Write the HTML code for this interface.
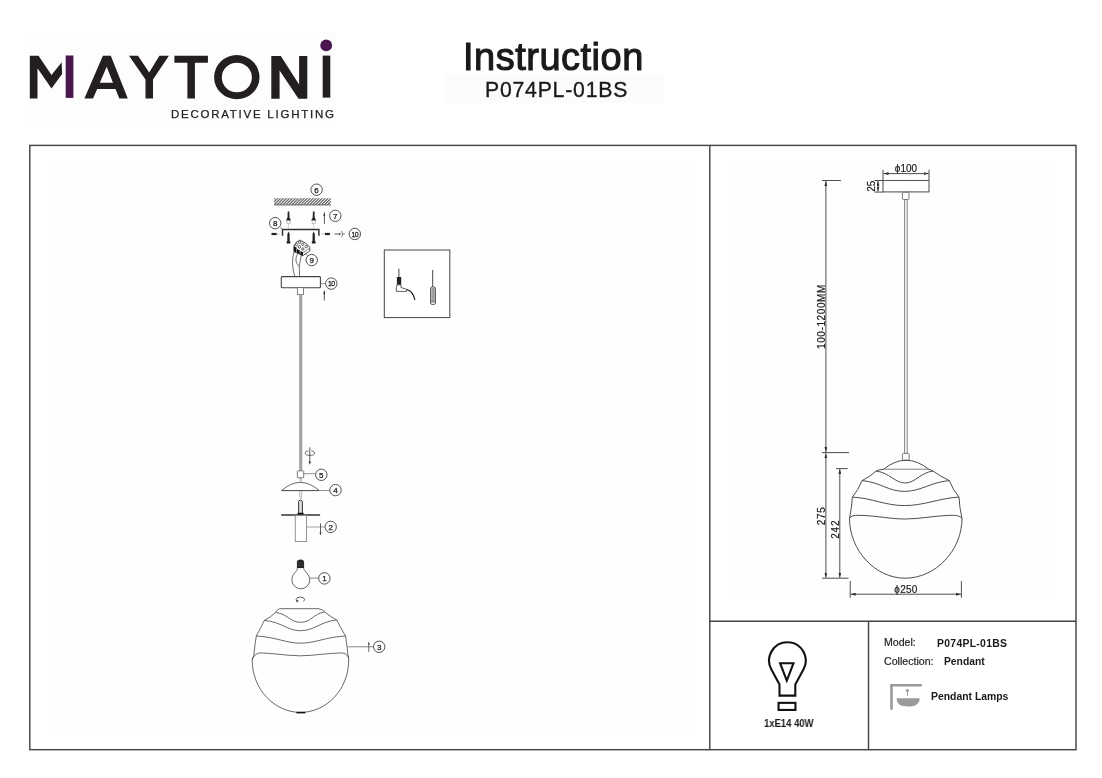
<!DOCTYPE html>
<html>
<head>
<meta charset="utf-8">
<style>
html,body{margin:0;padding:0;background:#fff;}
body{width:1102px;height:778px;position:relative;overflow:hidden;font-family:"Liberation Sans",sans-serif;color:#1a1a1a;}
.t{position:absolute;white-space:nowrap;line-height:1;will-change:transform;}
svg{will-change:transform;}
svg{position:absolute;left:0;top:0;}
</style>
</head>
<body>
<svg width="1102" height="778" viewBox="0 0 1102 778">
  <!-- faint background panels -->
  <rect x="30" y="32" width="306" height="96" fill="#fdfdfd"/>
  <rect x="48" y="164" width="643" height="568" fill="#fefefe"/>
  <rect x="445" y="74" width="219" height="29" fill="#fcfcfc"/>
  <rect x="728" y="164" width="322" height="436" fill="#fefefe"/>
  <!-- LOGO -->
  <g fill="#231f20">
    <polygon points="29.8,98.4 29.8,55.8 38.5,55.8 51.5,74.9 61.7,62.2 62.1,74.1 51.5,88.4 37.5,68.2 37.5,98.4"/>
    <path fill-rule="evenodd" d="M84.4,98.4 L102.9,55.8 L110.8,55.8 L127.8,98.4 L119.3,98.4 L115.5,89 L97.2,89 L93,98.4 Z M99.8,82.7 L106.7,66.8 L113,82.7 Z"/>
    <polygon points="129,55.8 138,55.8 149.2,72.5 159.4,55.8 168.9,55.8 153,79.5 153,98.4 145.5,98.4 145.5,79.5"/>
    <polygon points="174.4,55.8 207.9,55.8 207.9,62.8 194.9,62.8 194.9,98.4 187.4,98.4 187.4,62.8 174.4,62.8"/>
    <path fill-rule="evenodd" d="M214.1,77.2 A22.7,22.1 0 1 0 259.5,77.2 A22.7,22.1 0 1 0 214.1,77.2 Z M221.8,77.5 A15.05,14.75 0 1 0 251.9,77.5 A15.05,14.75 0 1 0 221.8,77.5 Z"/>
    <polygon points="271.3,98.7 271.3,56 280.8,56 299.1,84.5 299.1,56 307.3,56 307.3,98.7 298.5,98.7 279.6,70.4 279.6,98.7"/>
    <rect x="322.7" y="55.6" width="7.6" height="42"/>
  </g>
  <g fill="#4a1650">
    <rect x="65.7" y="55.5" width="7.7" height="42.4"/>
    <circle cx="326.2" cy="45.4" r="5.9"/>
  </g>



  <!-- LEFT ASSEMBLY DIAGRAM -->
  <defs>
    <pattern id="hatch" patternUnits="userSpaceOnUse" width="2.1" height="2.1" patternTransform="rotate(45)">
      <rect x="0" y="0" width="1" height="2.1" fill="#444"/>
    </pattern>
    <marker id="ah" viewBox="0 0 10 6" refX="10" refY="3" markerWidth="4.6" markerHeight="2.2" orient="auto" markerUnits="userSpaceOnUse">
      <path d="M0,0 L10,3 L0,6 Z" fill="#333"/>
    </marker>
  </defs>
  <!-- ceiling hatch -->
  <rect x="274.1" y="198.2" width="56.7" height="6.4" fill="url(#hatch)"/>
  <line x1="274.1" y1="204.9" x2="330.8" y2="204.9" stroke="#555" stroke-width="1"/>
  <!-- callout circles -->
  <g stroke="#333" stroke-width="0.85" fill="#fff">
    <circle cx="316.6" cy="189.7" r="5.7"/>
    <circle cx="335.3" cy="215.8" r="5.7"/>
    <circle cx="275.2" cy="223.2" r="5.7"/>
    <circle cx="354.8" cy="234" r="5.7"/>
    <circle cx="311.7" cy="260.1" r="5.7"/>
    <circle cx="331.3" cy="283.6" r="5.7"/>
    <circle cx="321.3" cy="474.8" r="5.7"/>
    <circle cx="335.5" cy="490.1" r="5.7"/>
    <circle cx="330.7" cy="526.9" r="5.7"/>
    <circle cx="324.4" cy="578.4" r="5.7"/>
    <circle cx="379.2" cy="646.8" r="5.7"/>
  </g>
  <g font-family="Liberation Sans, sans-serif" font-size="8" fill="#1a1a1a" stroke="#1a1a1a" stroke-width="0.25" text-anchor="middle">
    <text x="316.6" y="192.6">6</text>
    <text x="335.3" y="218.7">7</text>
    <text x="275.2" y="226.1">8</text>
    <text x="354.8" y="236.9" font-size="7.6" letter-spacing="-0.7" transform="translate(354.8,0) scale(0.92,1) translate(-354.8,0)">10</text>
    <text x="311.7" y="263">9</text>
    <text x="331.3" y="286.5" font-size="7.6" letter-spacing="-0.7" transform="translate(331.3,0) scale(0.92,1) translate(-331.3,0)">10</text>
    <text x="321.3" y="477.7">5</text>
    <text x="335.5" y="493">4</text>
    <text x="330.7" y="529.8">2</text>
    <text x="324.4" y="581.3">1</text>
    <text x="379.2" y="649.7">3</text>
  </g>
  <!-- wall plugs (top) -->
  <g fill="#222">
    <path d="M287.7,211.4 L289.3,211.4 L289.5,217.5 L291,220.6 L286,220.6 L287.5,217.5 Z"/>
    <path d="M312.9,211.4 L314.5,211.4 L314.7,217.5 L316.2,220.6 L311.2,220.6 L312.7,217.5 Z"/>
  </g>
  <g fill="none" stroke="#999" stroke-width="0.6">
    <rect x="286.9" y="220.8" width="3.2" height="2.8"/>
    <rect x="312.1" y="220.8" width="3.2" height="2.8"/>
    <line x1="288.5" y1="224" x2="288.5" y2="229" stroke-dasharray="1.5,1"/>
    <line x1="313.7" y1="224" x2="313.7" y2="229" stroke-dasharray="1.5,1"/>
  </g>
  <!-- bracket -->
  <path d="M282.5,235.7 L282.5,229.6 L318.9,229.6 L318.9,235.7" fill="none" stroke="#333" stroke-width="1.5"/>
  <line x1="280.2" y1="227.3" x2="282.5" y2="229.4" stroke="#555" stroke-width="0.7"/>
  <!-- screws (lower) -->
  <g fill="#222">
    <path d="M288.5,231.4 L289.6,234 L289.7,241 L290.5,242 L290.3,243.5 L286.7,243.5 L286.5,242 L287.3,241 L287.4,234 Z"/>
    <path d="M313.7,231.4 L314.8,234 L314.9,241 L315.7,242 L315.5,243.5 L311.9,243.5 L311.7,242 L312.5,241 L312.6,234 Z"/>
    <rect x="271.5" y="232.9" width="5.2" height="2.2"/>
    <rect x="325" y="232.9" width="4.9" height="2.2"/>
  </g>
  <g fill="none" stroke="#aaa" stroke-width="0.7">
    <line x1="276.8" y1="234" x2="279.6" y2="234"/>
    <line x1="321.8" y1="234" x2="325" y2="234"/>
  </g>
  <!-- arrow + nut right -->
  <line x1="334.5" y1="234" x2="339" y2="234" stroke="#333" stroke-width="0.8"/>
  <path d="M339,232.8 L341,234 L339,235.2 Z" fill="#333"/>
  <path d="M341.5,230.8 Q343.8,234 341.5,237.2 M341.7,234 L344.9,234" fill="none" stroke="#555" stroke-width="0.7"/>
  <!-- arrow 7 -->
  <line x1="324.4" y1="223.8" x2="324.4" y2="212.4" stroke="#333" stroke-width="0.8" marker-end="url(#ah)"/>
  <!-- terminal block -->
  <path d="M293.9,246 L296,242.5 L299.6,240.2 L303,241.6 L306.5,243.8 L309.8,247.6 L309.8,251 L302.8,255.8 L293.9,251.5 Z" fill="#fff" stroke="#111" stroke-width="0.7"/>
  <g fill="#111">
    <path d="M293.9,246.3 L296.5,247.6 L296.5,252.7 L293.9,251.5 Z"/>
    <path d="M297,249 L299.7,250.3 L299.7,254.3 L297,253 Z"/>
    <path d="M300.3,251 L303,252.3 L303,255.8 L300.3,254.6 Z"/>
  </g>
  <g fill="#fff" stroke="#111" stroke-width="0.65">
    <circle cx="296.4" cy="244.6" r="1.25"/>
    <circle cx="299.6" cy="242.3" r="1.25"/>
    <circle cx="299.5" cy="246.9" r="1.25"/>
    <circle cx="302.8" cy="244.3" r="1.2"/>
    <circle cx="302.8" cy="249" r="1.2"/>
    <circle cx="306.2" cy="246.6" r="1.2"/>
  </g>
  <path d="M303,252.6 L309.6,248.2" stroke="#111" stroke-width="0.5"/>
  <line x1="306" y1="253.7" x2="307.6" y2="255.6" stroke="#555" stroke-width="0.6"/>
  <!-- wires -->
  <g fill="none" stroke="#333" stroke-width="0.7">
    <path d="M294.2,251.5 Q290.5,262 294.8,276.6"/>
    <path d="M297.4,254.2 Q293.5,261 299.3,266.6 L299.6,276.6"/>
    <path d="M301.2,255.3 Q300,262 299.3,266.6"/>
  </g>
  <!-- canopy -->
  <rect x="281.3" y="276.6" width="39.1" height="11.1" rx="0.8" fill="#fff" stroke="#444" stroke-width="1.1"/>
  <line x1="320.4" y1="283.6" x2="325.6" y2="283.6" stroke="#666" stroke-width="0.7"/>
  <line x1="324.3" y1="300.7" x2="324.3" y2="290.6" stroke="#333" stroke-width="0.8" marker-end="url(#ah)"/>
  <rect x="297.4" y="287.7" width="6.2" height="6.7" fill="#fff" stroke="#666" stroke-width="0.8"/>
  <!-- cord -->
  <rect x="299.3" y="294.4" width="2.8" height="176.2" fill="#a8a8a8"/>
  <line x1="299.5" y1="294.4" x2="299.5" y2="470.6" stroke="#888" stroke-width="0.4"/>
  <line x1="301.9" y1="294.4" x2="301.9" y2="470.6" stroke="#888" stroke-width="0.4"/>
  <!-- rotation symbol -->
  <line x1="309.8" y1="447.3" x2="309.8" y2="462.5" stroke="#333" stroke-width="0.8"/>
  <path d="M308.6,461.5 L309.8,464.7 L311,461.5 Z" fill="#333"/>
  <path d="M308.4,450.8 Q305,451.5 305.1,453.1 Q305.3,455.4 309.8,455.4 Q314.7,455.3 314.7,453.1 Q314.6,451.2 311.3,450.8" fill="none" stroke="#333" stroke-width="0.7"/>
  <!-- box 5 -->
  <rect x="297.4" y="470.8" width="6.3" height="7" rx="0.8" fill="#fff" stroke="#555" stroke-width="0.8"/>
  <line x1="303.7" y1="473.7" x2="315.6" y2="473.7" stroke="#666" stroke-width="0.7"/>
  <path d="M300,477.8 L300.4,482.4 M301.2,477.8 L301,482.4" stroke="#777" stroke-width="0.5" fill="none"/>
  <!-- dome 4 -->
  <path d="M281.6,490.5 Q300.4,474.3 319.3,490.5 Z" fill="#fff" stroke="#444" stroke-width="0.8"/>
  <line x1="281.6" y1="490.6" x2="319.3" y2="490.6" stroke="#555" stroke-width="1"/>
  <line x1="319.3" y1="490.5" x2="329.8" y2="490.5" stroke="#666" stroke-width="0.7"/>
  <!-- wire below dome -->
  <path d="M299.8,491 Q299.2,495 300.3,498.8 M301.6,491 Q301.8,495 301.2,498.8" stroke="#777" stroke-width="0.5" fill="none"/>
  <!-- threaded tube -->
  <path d="M298.6,514 L298.6,501.6 Q298.6,500.2 300.5,500.2 Q302.4,500.2 302.4,501.6 L302.4,514" fill="#ddd" stroke="#222" stroke-width="0.9"/>
  <path d="M297.3,514.8 L297.8,512.8 L303.4,512.8 L303.9,514.8 Z" fill="#111"/>
  <!-- plate -->
  <line x1="281.2" y1="515" x2="320.1" y2="515" stroke="#333" stroke-width="1.6"/>
  <!-- socket body -->
  <rect x="295.3" y="515.6" width="11.3" height="26" fill="#fff" stroke="#888" stroke-width="0.9"/>
  <line x1="306.6" y1="527" x2="325" y2="527" stroke="#888" stroke-width="0.8"/>
  <line x1="320.5" y1="523.3" x2="320.5" y2="533" stroke="#333" stroke-width="0.8"/>
  <path d="M319.4,532.5 L320.5,535.3 L321.6,532.5 Z" fill="#333"/>
  <!-- bulb 1 -->
  <path d="M296.9,568.3 L296.9,562.2 Q297,559.5 300.5,559.5 Q304,559.5 304.1,562.2 L304.1,568.3 Z" fill="#262626"/>
  <g stroke="#555" stroke-width="0.45"><line x1="297" y1="563.2" x2="304" y2="563.2"/><line x1="297" y1="565.6" x2="304" y2="565.6"/></g>
  <path d="M297.4,568.3 C297.4,571.5 291.9,573.8 291.9,579.9 A8.9,8.9 0 0 0 309.7,579.9 C309.7,573.8 304,571.5 303.7,568.3" fill="#fff" stroke="#444" stroke-width="0.8"/>
  <line x1="309.7" y1="578.1" x2="318.7" y2="578.1" stroke="#555" stroke-width="0.7"/>
  <!-- rotation arrow above globe -->
  <path d="M303.6,601.4 Q305.5,599.5 303.5,597.8 Q300.5,596.2 297.3,597.8 Q295.3,599.4 296.8,601.2" fill="none" stroke="#333" stroke-width="0.8"/>
  <path d="M295.6,600.6 L297.4,602.6 L298.4,600.2 Z" fill="#333"/>
  <!-- globe (left) -->
  <g stroke="#444" stroke-width="0.8" fill="none" stroke-linejoin="round">
    <path d="M279.6,608.7 Q276.6,610 275.5,612.4 Q270.6,617.5 264.3,620.4 Q260.5,628.5 256.3,636 Q254.6,646 253.8,656.1 Q252.2,658 252.2,660 C252.2,690 275,712.4 300.5,712.4 C326,712.4 348.7,690 348.7,660 Q348.7,657 347.9,654.5 Q347,645 345.5,636 Q340.9,628 336.6,619.9 Q330.2,616.5 324.6,611.9 Q323,609.8 319,608.7 Z"/>
    <path d="M275.5,612.4 C288,614 290,622.3 300.5,622.3 C311,622.3 313,614 324.6,611.9"/>
    <path d="M264.3,620.4 C282,622 287,630.7 300.5,630.7 C314,630.7 320,622 336.6,619.9"/>
    <path d="M256.3,636 C276,637 286,643.2 300.5,643.2 C315,643.2 326,637 345.5,636"/>
    <path d="M252.2,659.5 C254,655 257,653 261,652.9 C276,653.5 288,655.8 300.5,655.8 C313,655.8 326,653.2 341.5,652.9 C345,653 347.5,654.5 348.7,658.5"/>
  </g>
  <line x1="296.4" y1="712.6" x2="305.3" y2="712.6" stroke="#111" stroke-width="1.6"/>
  <line x1="347.8" y1="646.8" x2="373.3" y2="646.8" stroke="#555" stroke-width="0.7"/>
  <line x1="368.8" y1="644" x2="368.8" y2="652.1" stroke="#333" stroke-width="0.7"/>
  <path d="M367.9,644.4 L368.8,641.6 L369.7,644.4 Z" fill="#333"/>
  <!-- detail box -->
  <rect x="384.3" y="250" width="65.5" height="67.6" fill="#fff" stroke="#444" stroke-width="1"/>
  <g>
    <line x1="398.9" y1="268.6" x2="398.9" y2="277.2" stroke="#333" stroke-width="0.9"/>
    <rect x="396.9" y="277" width="4.3" height="7.8" fill="#222"/>
    <path d="M397,284.8 L401,284.8 L401,287.5 L403,288.2 Q406,288.6 406.8,290 L406.5,291.4 L396.3,291.4 L396.3,287.5 Z" fill="#fff" stroke="#333" stroke-width="0.8"/>
    <path d="M406.3,289.2 Q413.5,291.5 414.9,300" fill="none" stroke="#222" stroke-width="1.2"/>
    <line x1="432.7" y1="270" x2="432.7" y2="287" stroke="#333" stroke-width="0.9"/>
    <rect x="430.5" y="287" width="5" height="17.4" rx="1.5" fill="#fff" stroke="#333" stroke-width="0.8"/>
    <g stroke="#333" stroke-width="0.45"><line x1="431.7" y1="288" x2="431.7" y2="302"/><line x1="432.6" y1="288" x2="432.6" y2="302"/><line x1="433.5" y1="288" x2="433.5" y2="302"/><line x1="434.4" y1="288" x2="434.4" y2="302"/></g>
    <line x1="430.5" y1="302" x2="435.5" y2="302" stroke="#333" stroke-width="0.6"/>
  </g>

  <!-- RIGHT DIMENSION DRAWING -->
  <defs>
    <marker id="ar" viewBox="0 0 10 6" refX="10" refY="3" markerWidth="5" markerHeight="3" orient="auto-start-reverse" markerUnits="userSpaceOnUse">
      <path d="M0,0 L10,3 L0,6 Z" fill="#333"/>
    </marker>
  </defs>
  <g stroke="#3a3a3a" stroke-width="0.9" fill="none">
    <!-- canopy -->
    <rect x="883" y="180.5" width="46" height="11.4" fill="#fff" stroke="#5a5a5a" stroke-width="1.1"/>
    <rect x="902.4" y="192.2" width="6.6" height="7.3" rx="0.9" stroke="#777" stroke-width="1"/>
    <line x1="904.6" y1="199.5" x2="904.6" y2="453.4" stroke="#8a8a8a" stroke-width="1.1"/>
    <line x1="907.2" y1="199.5" x2="907.2" y2="453.4" stroke="#8a8a8a" stroke-width="1.1"/>
    <rect x="902.4" y="453.4" width="6.8" height="6.9" rx="0.9" stroke="#777" stroke-width="1"/>
    <!-- phi100 dim -->
    <line x1="883" y1="169.8" x2="883" y2="180"/>
    <line x1="929" y1="169.8" x2="929" y2="180"/>
    <line x1="883.5" y1="173.6" x2="928.5" y2="173.6" marker-start="url(#ar)" marker-end="url(#ar)"/>
    <!-- 25 dim -->
    <line x1="874.5" y1="180.5" x2="883" y2="180.5"/>
    <line x1="874.5" y1="192.1" x2="883" y2="192.1"/>
    <line x1="878" y1="181" x2="878" y2="191.6" marker-start="url(#ar)" marker-end="url(#ar)"/>
    <!-- 100-1200 dim -->
    <line x1="822" y1="180.5" x2="841" y2="180.5"/>
    <line x1="822" y1="452.6" x2="849" y2="452.6"/>
    <line x1="825.9" y1="181" x2="825.9" y2="452" marker-start="url(#ar)" marker-end="url(#ar)"/>
    <!-- 275 dim -->
    <line x1="825.9" y1="453.2" x2="825.9" y2="577.6" marker-start="url(#ar)" marker-end="url(#ar)"/>
    <line x1="822" y1="578.2" x2="848.5" y2="578.2"/>
    <!-- 242 dim -->
    <line x1="836" y1="468.6" x2="847.6" y2="468.6"/>
    <line x1="839.8" y1="469.1" x2="839.8" y2="577.6" marker-start="url(#ar)" marker-end="url(#ar)"/>
    <!-- phi250 dim -->
    <line x1="850.2" y1="581" x2="850.2" y2="597.8"/>
    <line x1="961.4" y1="581" x2="961.4" y2="597.8"/>
    <line x1="850.7" y1="594.2" x2="960.9" y2="594.2" marker-start="url(#ar)" marker-end="url(#ar)"/>
  </g>
  <g stroke="#3a3a3a" stroke-width="0.9" fill="none" stroke-linejoin="round">
    <path d="M883.6,469.3 Q905.7,451.1 928.9,469.3"/>
    <line x1="883.6" y1="469.2" x2="928.9" y2="469.2" stroke="#777"/>
    <path d="M883.6,469.3 Q878,469.6 876.2,471 Q870.5,476.5 862,480.6 Q858.5,490 852.4,497.1 Q851.8,507 849.5,518.5 C849.5,550 875,578.2 905,578.2 C936,578.2 962,550 962,518.5 Q959.4,507 959,497.1 Q952.8,490 949.4,480.6 Q940.7,476.5 932.9,471 Q930.5,469.6 928.9,469.3"/>
    <path d="M876.2,471 C890,473 895,483 905.1,483 C915,483 920,473 932.9,471"/>
    <path d="M862,480.6 C880,482 888,491.4 904.5,491.4 C921,491.4 931,482 949.4,480.6"/>
    <path d="M852.4,497.1 C872,498 885,505.6 904.5,505.6 C924,505.6 940,498 959,497.1"/>
    <path d="M849.5,518.5 C851,515.5 854,515.3 859,515.3 C878,515.8 890,519 905,519 C920,519 934,515.8 950,515.3 C956,515.3 960,515.5 962,518.5"/>
  </g>
  <g font-family="Liberation Sans, sans-serif" font-size="10" fill="#222" stroke="#222" stroke-width="0.2">
    <text x="906" y="172" text-anchor="middle">&#x3d5;100</text>
    <text x="906" y="592.8" text-anchor="middle" letter-spacing="0.3">&#x3d5;250</text>
    <text transform="translate(875.3,186.3) rotate(-90)" text-anchor="middle">25</text>
    <text transform="translate(824.6,316.5) rotate(-90)" text-anchor="middle" letter-spacing="0.6">100-1200MM</text>
    <text transform="translate(825.2,515.8) rotate(-90)" text-anchor="middle" letter-spacing="0.7">275</text>
    <text transform="translate(838.8,529.2) rotate(-90)" text-anchor="middle" letter-spacing="0.8">242</text>
  </g>


  <!-- TABLE ICONS -->
  <g stroke="#111" stroke-width="2.1" fill="none" stroke-linejoin="miter">
    <path d="M779.5,684.5 L771.27,669.15 A18.3,18.3 0 1 1 803.53,669.15 L795.3,684.5 L795.3,695.6 L779.5,695.6 Z"/>
    <path d="M780.1,663.2 L793.5,663.2 L786.8,680.6 Z"/>
    <rect x="778.55" y="702.85" width="16.9" height="7.1"/>
  </g>
  <g fill="#9a9a9a">
    <rect x="890.2" y="683.9" width="2.6" height="26.1" rx="1.2"/>
    <rect x="890.2" y="683.9" width="31.8" height="2.6" rx="1.2"/>
    <ellipse cx="907.4" cy="690.6" rx="1.8" ry="1.3"/>
    <rect x="907" y="691.5" width="1" height="4.2"/>
    <path d="M896.5,698.2 L919.6,698.2 Q919.6,706.6 908,706.6 Q896.5,706.6 896.5,698.2 Z"/>
  </g>
  <!-- FRAME -->
  <g stroke="#454545" stroke-width="1.45" fill="none">
    <rect x="29.8" y="145.4" width="1046.2" height="604.3"/>
    <line x1="709.8" y1="145.4" x2="709.8" y2="749.4"/>
    <line x1="709.8" y1="621.2" x2="1076" y2="621.2"/>
    <line x1="868.5" y1="621.2" x2="868.5" y2="749.4"/>
  </g>
</svg>

<div class="t" id="ttl" style="left:463px;top:38.3px;font-size:38px;letter-spacing:0.5px;-webkit-text-stroke:1.1px #1a1a1a;">Instruction</div>
<div class="t" id="mdl" style="left:484.8px;top:78.6px;font-size:21.2px;letter-spacing:0.8px;-webkit-text-stroke:0.35px #1a1a1a;">P074PL-01BS</div>
<div class="t" id="dl" style="left:171px;top:109px;font-size:11.5px;letter-spacing:1.75px;color:#222;-webkit-text-stroke:0.25px #222;">DECORATIVE LIGHTING</div>

<div class="t" id="bl" style="left:764.3px;top:719.1px;font-size:10.3px;font-weight:bold;color:#1a1a1a;transform:scaleX(0.92);transform-origin:0 0;">1xE14 40W</div>
<div class="t" id="m1" style="left:883.5px;top:637.4px;font-size:10.6px;color:#222;-webkit-text-stroke:0.2px #222;">Model:</div>
<div class="t" id="m2" style="left:936.5px;top:638.6px;font-size:10.4px;letter-spacing:0.3px;font-weight:bold;color:#1a1a1a;">P074PL-01BS</div>
<div class="t" id="c1" style="left:883.5px;top:656.1px;font-size:10.6px;color:#222;-webkit-text-stroke:0.2px #222;">Collection:</div>
<div class="t" id="c2" style="left:944px;top:656.9px;font-size:10.3px;font-weight:bold;color:#1a1a1a;">Pendant</div>
<div class="t" id="pl" style="left:931px;top:692.2px;font-size:10.4px;font-weight:bold;color:#1a1a1a;">Pendant Lamps</div>

</body>
</html>
